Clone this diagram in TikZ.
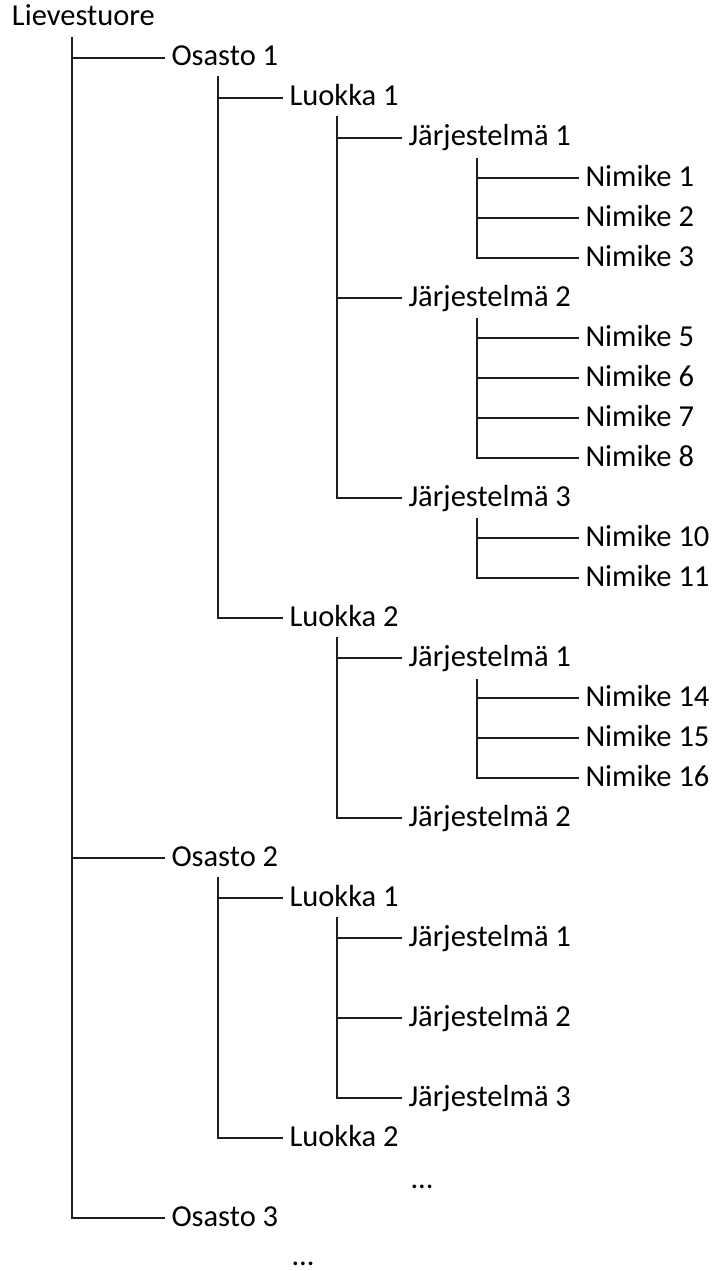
\documentclass[tikz,border=0pt]{standalone}
\usepackage{fontspec}
\setmainfont{Carlito}
\begin{document}
\begin{tikzpicture}[x=1pt,y=-1pt,
  lbl/.style={anchor=west, inner xsep=6.5pt, inner ysep=0pt, outer sep=0pt,
    text height=19pt, text depth=3pt, font=\fontsize{30.5}{36}\selectfont, text=black},
  dots/.style={lbl, text height=12pt, text depth=0pt},
  conn/.style={draw=black!88, line width=1.9pt}]
\useasboundingbox (0,0) rectangle (712,1271);

% level 0
\node[lbl] (root) at (5.5,18) {Lievestuore};
% level 1
\node[lbl] (o1) at (165,58)   {Osasto 1};
\node[lbl] (o2) at (165,858)  {Osasto 2};
\node[lbl] (o3) at (165,1218) {Osasto 3};
% level 2
\node[lbl] (o1l1) at (283,98)   {Luokka 1};
\node[lbl] (o1l2) at (283,618)  {Luokka 2};
\node[lbl] (o2l1) at (283,898)  {Luokka 1};
\node[lbl] (o2l2) at (283,1138) {Luokka 2};
% level 3
\node[lbl] (o1l1j1) at (402,138)  {Järjestelmä 1};
\node[lbl] (o1l1j2) at (402,298)  {Järjestelmä 2};
\node[lbl] (o1l1j3) at (402,498)  {Järjestelmä 3};
\node[lbl] (o1l2j1) at (402,658)  {Järjestelmä 1};
\node[lbl] (o1l2j2) at (402,818)  {Järjestelmä 2};
\node[lbl] (o2l1j1) at (402,938)  {Järjestelmä 1};
\node[lbl] (o2l1j2) at (402,1018) {Järjestelmä 2};
\node[lbl] (o2l1j3) at (402,1098) {Järjestelmä 3};
% level 4
\node[lbl] (n1)  at (579,178) {Nimike 1};
\node[lbl] (n2)  at (579,218) {Nimike 2};
\node[lbl] (n3)  at (579,258) {Nimike 3};
\node[lbl] (n5)  at (579,338) {Nimike 5};
\node[lbl] (n6)  at (579,378) {Nimike 6};
\node[lbl] (n7)  at (579,418) {Nimike 7};
\node[lbl] (n8)  at (579,458) {Nimike 8};
\node[lbl] (n10) at (579,538) {Nimike 10};
\node[lbl] (n11) at (579,578) {Nimike 11};
\node[lbl] (n14) at (579,698) {Nimike 14};
\node[lbl] (n15) at (579,738) {Nimike 15};
\node[lbl] (n16) at (579,778) {Nimike 16};
% continuation marks
\node[dots] (more1) at (404,1182) {...};
\node[dots] (more2) at (285,1259) {...};

% tops of the vertical trunks
\coordinate (root-v)   at (72,37);
\coordinate (o1-v)     at (218,76);
\coordinate (o2-v)     at (218,877);
\coordinate (o1l1-v)   at (337,116);
\coordinate (o1l2-v)   at (337,637);
\coordinate (o2l1-v)   at (337,917);
\coordinate (o1l1j1-v) at (477,158);
\coordinate (o1l1j2-v) at (477,318);
\coordinate (o1l1j3-v) at (477,518);
\coordinate (o1l2j1-v) at (477,679);

% connectors
\foreach \c in {o1,o2,o3} \draw[conn] (root-v) |- (\c.west);
\foreach \c in {o1l1,o1l2} \draw[conn] (o1-v) |- (\c.west);
\foreach \c in {o2l1,o2l2} \draw[conn] (o2-v) |- (\c.west);
\foreach \c in {o1l1j1,o1l1j2,o1l1j3} \draw[conn] (o1l1-v) |- (\c.west);
\foreach \c in {o1l2j1,o1l2j2} \draw[conn] (o1l2-v) |- (\c.west);
\foreach \c in {o2l1j1,o2l1j2,o2l1j3} \draw[conn] (o2l1-v) |- (\c.west);
\foreach \c in {n1,n2,n3} \draw[conn] (o1l1j1-v) |- (\c.west);
\foreach \c in {n5,n6,n7,n8} \draw[conn] (o1l1j2-v) |- (\c.west);
\foreach \c in {n10,n11} \draw[conn] (o1l1j3-v) |- (\c.west);
\foreach \c in {n14,n15,n16} \draw[conn] (o1l2j1-v) |- (\c.west);
\end{tikzpicture}
\end{document}
